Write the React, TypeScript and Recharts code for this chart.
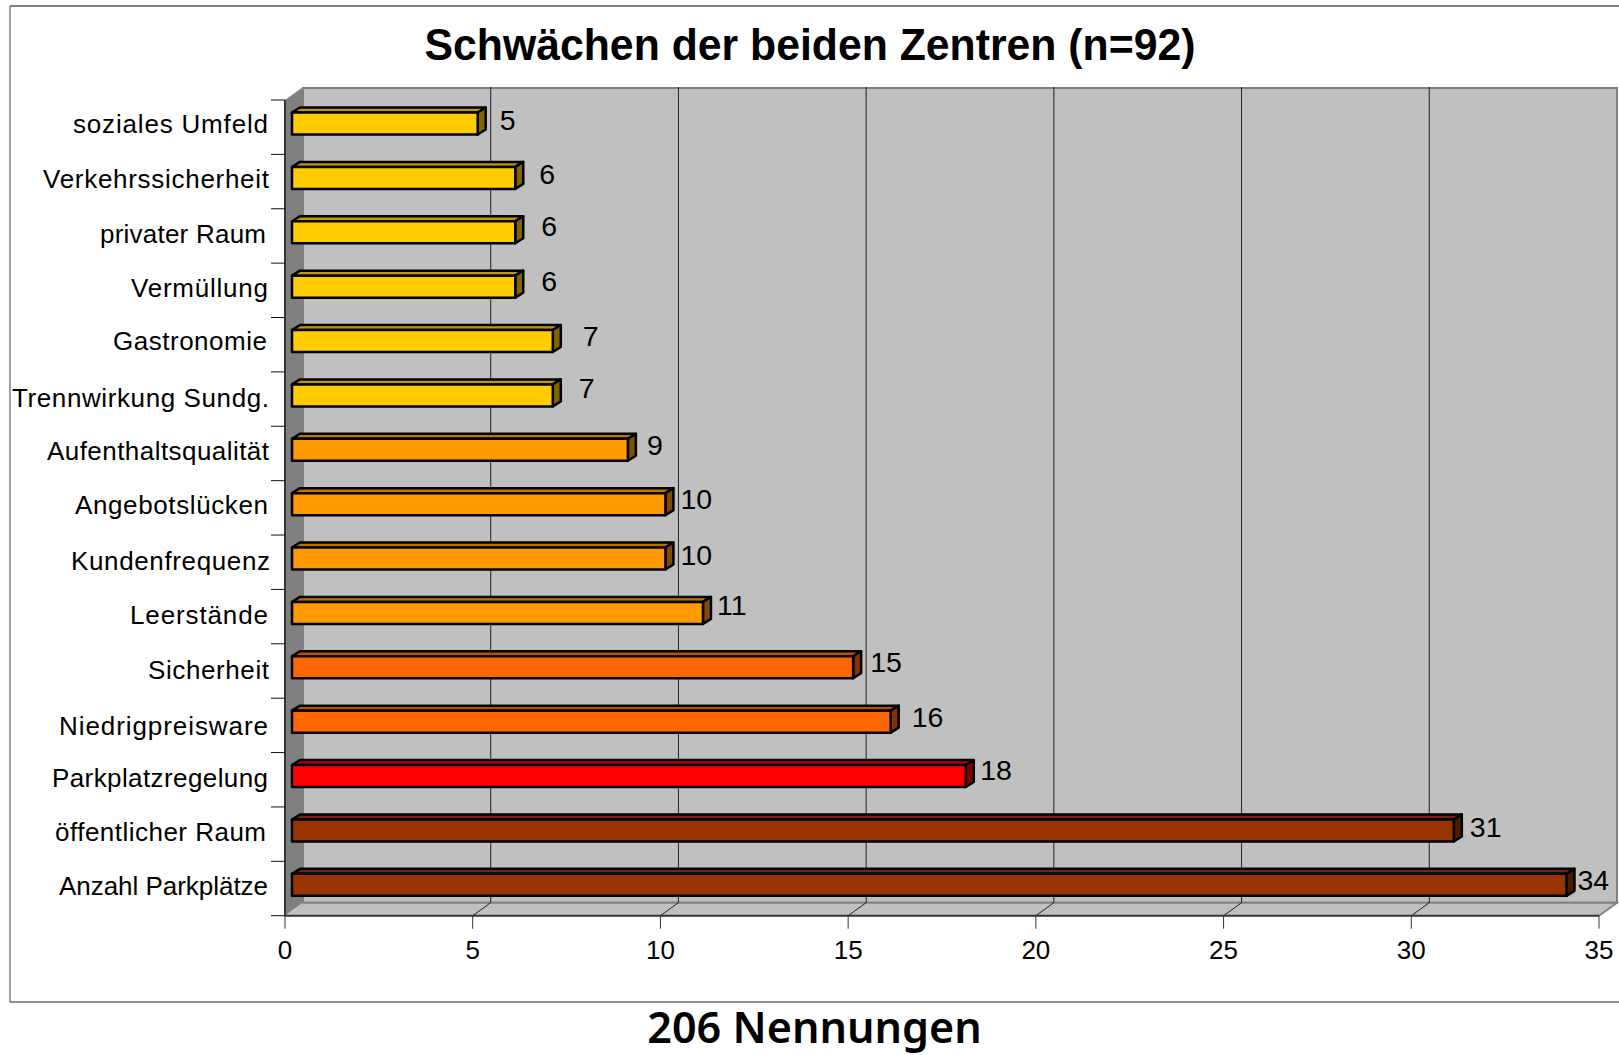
import { BarChart, Bar, XAxis, YAxis, CartesianGrid, LabelList } from "recharts"

const categories = [
  "soziales Umfeld",
  "Verkehrssicherheit",
  "privater Raum",
  "Vermüllung",
  "Gastronomie",
  "Trennwirkung Sundg.",
  "Aufenthaltsqualität",
  "Angebotslücken",
  "Kundenfrequenz",
  "Leerstände",
  "Sicherheit",
  "Niedrigpreisware",
  "Parkplatzregelung",
  "öffentlicher Raum",
  "Anzahl Parkplätze",
]
const values = [5, 6, 6, 6, 7, 7, 9, 10, 10, 11, 15, 16, 18, 31, 34]
const barColors = [
  "#FFCC00", "#FFCC00", "#FFCC00", "#FFCC00", "#FFCC00", "#FFCC00",
  "#FF9900", "#FF9900", "#FF9900", "#FF9900",
  "#FF6600", "#FF6600",
  "#FF0000",
  "#993300", "#993300",
]
const xTicks = [0, 5, 10, 15, 20, 25, 30, 35]

// the labels sit a bit irregularly in the original
const labelGapX = [14, 16, 18, 18, 22, 18, 11, 7, 7, 6, 9, 13, 6.5, 8, 3]
const labelGapY = [-3.7, -3.5, -6.5, -5.8, -4.6, -7.6, -5, -5.4, -3.2, -8, -5.5, -4.4, -6, -3.7, -5]
const tickGapX = [0, 1, -2, 0, -1, 1, 1, 0, 2, 0, 1, 0, 0, -2, 0]
const tickGapY = [-3.2, -2.8, -2.2, -2.2, -4.2, -1.2, -2.8, -3.2, -1.8, -2.2, -1.2, 0.2, -2.2, -1.8, -2.8]
const tickWidths = [195, 226, 166, 137, 154, 257, 222, 193, 199, 138, 121, 209, 216, 211, 209]

const data = categories.map((name, i) => ({ name, value: values[i], color: barColors[i] }))

const W = 1619
const H = 1055
const LEFT = 285
const TOP = 100
const BOTTOM = 915.7
const RIGHT = 1599
const DX = 18
const DY = -13
const BAR_START = 7
const BAR_DX = 5
const BAR_DY = -3.5
const FACE_DX = 8
const FACE_DY = -5
const FONT = "'Liberation Sans', Arial, sans-serif"

function shade(hex: string, f: number) {
  const n = parseInt(hex.slice(1), 16)
  const c = (s: number) => Math.round(((n >> s) & 255) * f)
  return `rgb(${c(16)},${c(8)},${c(0)})`
}

function Bar3D(props: any) {
  const { x, y, width, height, payload } = props
  const l = x + BAR_START
  const r = x + BAR_DX + width
  const t = y + BAR_DY
  const b = t + height
  return (
    <g stroke="#000" strokeWidth={2.5} strokeLinejoin="round">
      <polygon
        points={`${l},${t} ${l + FACE_DX},${t + FACE_DY} ${r + FACE_DX},${t + FACE_DY} ${r},${t}`}
        fill={shade(payload.color, 0.75)}
      />
      <polygon
        points={`${r},${t} ${r + FACE_DX},${t + FACE_DY} ${r + FACE_DX},${b + FACE_DY} ${r},${b}`}
        fill={shade(payload.color, 0.5)}
      />
      <rect x={l} y={t} width={r - l} height={height} fill={payload.color} />
    </g>
  )
}

function CategoryTick(props: any) {
  const { y, payload, index } = props
  const band = (BOTTOM - TOP) / categories.length
  return (
    <g>
      <line x1={LEFT - 14} x2={LEFT} y1={y - band / 2} y2={y - band / 2} stroke="#111" strokeWidth={1} />
      {index === categories.length - 1 && (
        <line x1={LEFT - 14} x2={LEFT} y1={y + band / 2} y2={y + band / 2} stroke="#111" strokeWidth={1} />
      )}
      <text
        x={268 + tickGapX[index]}
        y={y + tickGapY[index]}
        dy="0.35em"
        textAnchor="end"
        fontSize={26}
        textLength={tickWidths[index]}
        lengthAdjust="spacing"
        fontFamily={FONT}
        fill="#000"
      >
        {payload.value}
      </text>
    </g>
  )
}

function ValueLabel(props: any) {
  const { x, y, width, height, value, index } = props
  return (
    <text
      x={x + width + BAR_DX + FACE_DX + labelGapX[index]}
      y={y + height / 2 + BAR_DY + labelGapY[index]}
      dy="0.35em"
      fontSize={28.5}
      fontFamily={FONT}
      fill="#000"
    >
      {value}
    </text>
  )
}

function GridLine(props: any) {
  const { x1, y1, y2 } = props
  if (x1 <= LEFT + 1 || x1 >= RIGHT - 1) return <g />
  return (
    <g stroke="#222" strokeWidth={1}>
      <line x1={x1 + DX} x2={x1 + DX} y1={y1 + DY} y2={y2 + DY} />
      <line x1={x1 + DX} x2={x1} y1={y2 + DY} y2={y2} />
    </g>
  )
}

function Walls() {
  return (
    <svg width={W} height={H} style={{ position: "absolute", left: 0, top: 0 }}>
      <path d={`M10 6 H${W}`} stroke="#808080" strokeWidth={2} fill="none" />
      <path d={`M10 6 V1002`} stroke="#808080" strokeWidth={1.5} fill="none" />
      <path d={`M10 1002 H${W}`} stroke="#222" strokeWidth={1.2} fill="none" />
      <rect x={LEFT + DX} y={TOP + DY + 1} width={RIGHT - LEFT} height={BOTTOM - TOP - 1} fill="#C0C0C0" stroke="#808080" strokeWidth={2} />
      <polygon
        points={`${LEFT},${TOP} ${LEFT + DX},${TOP + DY} ${LEFT + DX},${BOTTOM + DY} ${LEFT},${BOTTOM}`}
        fill="#808080"
      />
      <polygon
        points={`${LEFT},${BOTTOM} ${LEFT + DX},${BOTTOM + DY} ${RIGHT + DX},${BOTTOM + DY} ${RIGHT},${BOTTOM}`}
        fill="#C0C0C0"
      />
      <path d={`M${LEFT + DX} ${BOTTOM + DY} H${RIGHT + DX} L${RIGHT} ${BOTTOM}`} stroke="#808080" strokeWidth={2} fill="none" />
    </svg>
  )
}

export default function App() {
  return (
    <div style={{ position: "absolute", left: 0, top: 0, width: W, height: H, overflow: "hidden", background: "#fff" }}>
      <Walls />
      <div style={{ position: "absolute", left: 0, top: 0 }}>
        <BarChart
          width={W}
          height={H}
          data={data}
          layout="vertical"
          margin={{ top: TOP, right: W - RIGHT, bottom: 0, left: 0 }}
          barSize={22}
        >
          <CartesianGrid horizontal={false} vertical={GridLine as any} syncWithTicks />
          <XAxis
            type="number"
            domain={[0, 35]}
            ticks={xTicks}
            height={H - BOTTOM}
            tickSize={13}
            tickMargin={12}
            interval={0}
            stroke="#333"
            axisLine={{ stroke: "#333", strokeWidth: 2 }}
            tick={{ fontSize: 26, fontFamily: FONT, fill: "#000" }}
          />
          <YAxis
            type="category"
            dataKey="name"
            width={LEFT}
            interval={0}
            tickLine={false}
            axisLine={{ stroke: "#333", strokeWidth: 2 }}
            tick={CategoryTick as any}
          />
          <Bar dataKey="value" isAnimationActive={false} shape={Bar3D as any}>
            <LabelList dataKey="value" content={ValueLabel as any} />
          </Bar>
        </BarChart>
      </div>
      <div
        style={{
          position: "absolute",
          left: 0,
          width: 1620,
          top: 19,
          textAlign: "center",
          fontFamily: FONT,
          fontWeight: 700,
          fontSize: 45,
          color: "#000",
          whiteSpace: "nowrap",
          transform: "scaleX(0.95)",
          transformOrigin: "810px 0",
        }}
      >
        Schwächen der beiden Zentren (n=92)
      </div>
      <div
        style={{
          position: "absolute",
          left: 0,
          width: 1629,
          top: 998,
          textAlign: "center",
          fontFamily: "'Noto Sans', sans-serif",
          fontWeight: 600,
          fontSize: 44,
          lineHeight: "57px",
          color: "#000",
          whiteSpace: "nowrap",
          transform: "scaleX(0.98)",
          transformOrigin: "814px 0",
        }}
      >
        206 Nennungen
      </div>
    </div>
  )
}
